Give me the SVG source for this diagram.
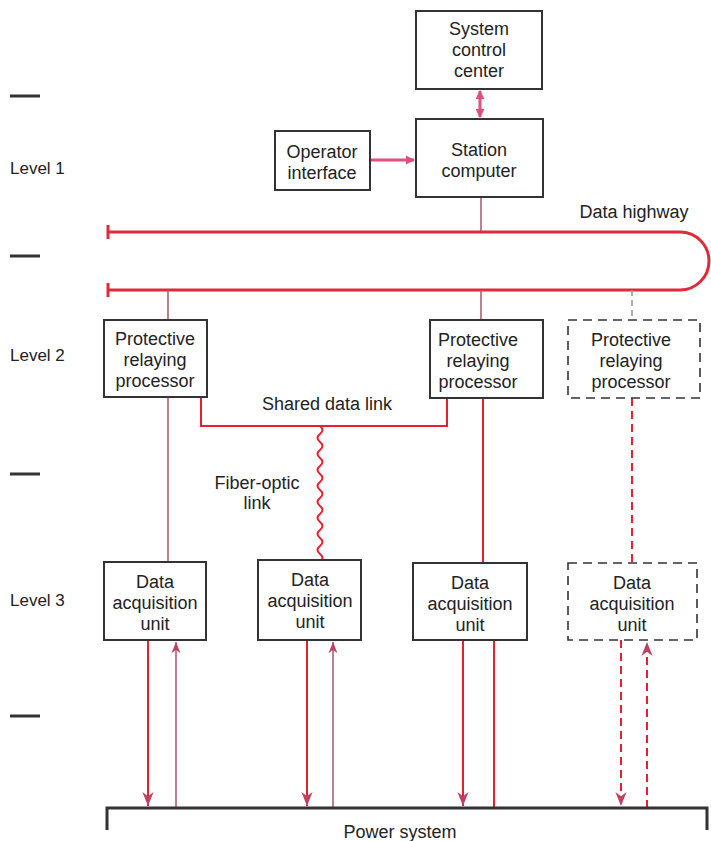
<svg xmlns="http://www.w3.org/2000/svg" width="711" height="841" viewBox="0 0 711 841">
<style>
.box{fill:#fff;stroke:#333;stroke-width:2}
.dbox{fill:#fff;stroke:#333;stroke-width:1.6;stroke-dasharray:9 6}
text{font-family:"Liberation Sans",Arial,sans-serif;font-size:18px;fill:#222;text-anchor:middle}
.lvl{text-anchor:start;font-size:17px}
.red{stroke:#e8202e;stroke-width:2;fill:none}
.hw{stroke:#e02a3a;stroke-width:3;fill:none}
.dred{stroke:#e8202e;stroke-width:2;fill:none;stroke-dasharray:8 5}
.gr{stroke:#b06070;stroke-width:1.6;fill:none}
.pink{stroke:#e0507a;stroke-width:3;fill:none}
.tick{stroke:#333;stroke-width:3}
</style>
<defs>
<marker id="ah" viewBox="0 0 10 10" refX="9" refY="5" markerUnits="userSpaceOnUse" markerWidth="9" markerHeight="10" orient="auto-start-reverse"><path d="M0,0 L10,5 L0,10 z" fill="#e0507a"/></marker>
<marker id="ar" viewBox="0 0 10 10" refX="10" refY="5" markerWidth="7" markerHeight="7" orient="auto"><path d="M0,1 L10,5 L0,9 L3,5 z" fill="#c04060"/></marker>
</defs>
<g id="levels">
<line class="tick" x1="10" y1="96" x2="40" y2="96"/>
<line class="tick" x1="10" y1="256" x2="40" y2="256"/>
<line class="tick" x1="10" y1="474" x2="40" y2="474"/>
<line class="tick" x1="10" y1="716" x2="40" y2="716"/>
<text class="lvl" x="10" y="174">Level 1</text>
<text class="lvl" x="10" y="361">Level 2</text>
<text class="lvl" x="10" y="606">Level 3</text>
</g>
<g id="connectors">
<line class="pink" x1="480" y1="91" x2="480" y2="117" marker-start="url(#ah)" marker-end="url(#ah)"/>
<line class="pink" x1="370" y1="160" x2="414" y2="160" marker-end="url(#ah)"/>
<line class="gr" x1="481" y1="197" x2="481" y2="232"/>
<path class="hw" d="M108,232 H680 A29,29 0 0 1 680,290 H108"/>
<line x1="108" y1="225" x2="108" y2="239" stroke="#e02a3a" stroke-width="3"/>
<line x1="108" y1="283" x2="108" y2="297" stroke="#e02a3a" stroke-width="3"/>
<text x="634" y="218">Data highway</text>
<line class="gr" x1="168" y1="290" x2="168" y2="320"/>
<line class="gr" x1="481" y1="290" x2="481" y2="320"/>
<line x1="632" y1="290" x2="632" y2="320" stroke="#999" stroke-width="1.6" stroke-dasharray="6 4"/>
<path class="red" d="M201,397 V426 H447 V398"/>
<text x="327" y="410">Shared data link</text>
<path class="red" d="M320,426 q5,4 0,8 q-5,4 0,8 q5,4 0,8 q-5,4 0,8 q5,4 0,8 q-5,4 0,8 q5,4 0,8 q-5,4 0,8 q5,4 0,8 q-5,4 0,8 q5,4 0,8 q-5,4 0,8 q5,4 0,8 q-5,4 0,8 q5,4 0,8 q-5,4 0,8 q5,4 0,8"/>
<text x="257" y="489">Fiber-optic</text>
<text x="257" y="509">link</text>
<line class="gr" x1="168" y1="397" x2="168" y2="562"/>
<line class="red" x1="483" y1="398" x2="483" y2="563"/>
<line class="dred" x1="632" y1="398" x2="632" y2="563"/>
<line class="red" x1="148" y1="640" x2="148" y2="806" marker-end="url(#ar)"/>
<line class="gr" x1="176" y1="808" x2="176" y2="642" marker-end="url(#ar)"/>
<line class="red" x1="307" y1="640" x2="307" y2="806" marker-end="url(#ar)"/>
<line class="gr" x1="333" y1="808" x2="333" y2="642" marker-end="url(#ar)"/>
<line class="red" x1="463" y1="640" x2="463" y2="806" marker-end="url(#ar)"/>
<line class="red" x1="494" y1="808" x2="494" y2="640"/>
<line class="dred" x1="621" y1="640" x2="621" y2="806" marker-end="url(#ar)"/>
<line class="dred" x1="647" y1="808" x2="647" y2="642" marker-end="url(#ar)"/>
<path d="M107,830 V808 H707 V830" fill="none" stroke="#333" stroke-width="3"/>
<text x="400" y="838">Power system</text>
</g>
<g id="system-control-center"><rect class="box" x="416" y="11" width="126" height="78"/><text x="479" y="35">System</text><text x="479" y="56">control</text><text x="479" y="77">center</text></g>
<g id="station-computer"><rect class="box" x="416" y="119" width="127" height="78"/><text x="479" y="156">Station</text><text x="479" y="177">computer</text></g>
<g id="operator-interface"><rect class="box" x="275" y="131" width="95" height="59"/><text x="322" y="158">Operator</text><text x="322" y="179">interface</text></g>
<g id="prp1"><rect class="box" x="104" y="320" width="103" height="77"/><text x="155" y="345">Protective</text><text x="155" y="366">relaying</text><text x="155" y="387">processor</text></g>
<g id="prp2"><rect class="box" x="430" y="320" width="113" height="78"/><text x="478" y="346">Protective</text><text x="478" y="367">relaying</text><text x="478" y="388">processor</text></g>
<g id="prp3"><rect class="dbox" x="568" y="320" width="132" height="78"/><text x="631" y="346">Protective</text><text x="631" y="367">relaying</text><text x="631" y="388">processor</text></g>
<g id="dau1"><rect class="box" x="104" y="562" width="102" height="78"/><text x="155" y="588">Data</text><text x="155" y="609">acquisition</text><text x="155" y="630">unit</text></g>
<g id="dau2"><rect class="box" x="258" y="560" width="103" height="80"/><text x="310" y="586">Data</text><text x="310" y="607">acquisition</text><text x="310" y="628">unit</text></g>
<g id="dau3"><rect class="box" x="413" y="563" width="114" height="77"/><text x="470" y="589">Data</text><text x="470" y="610">acquisition</text><text x="470" y="631">unit</text></g>
<g id="dau4"><rect class="dbox" x="568" y="563" width="129" height="77"/><text x="632" y="589">Data</text><text x="632" y="610">acquisition</text><text x="632" y="631">unit</text></g>
</svg>
